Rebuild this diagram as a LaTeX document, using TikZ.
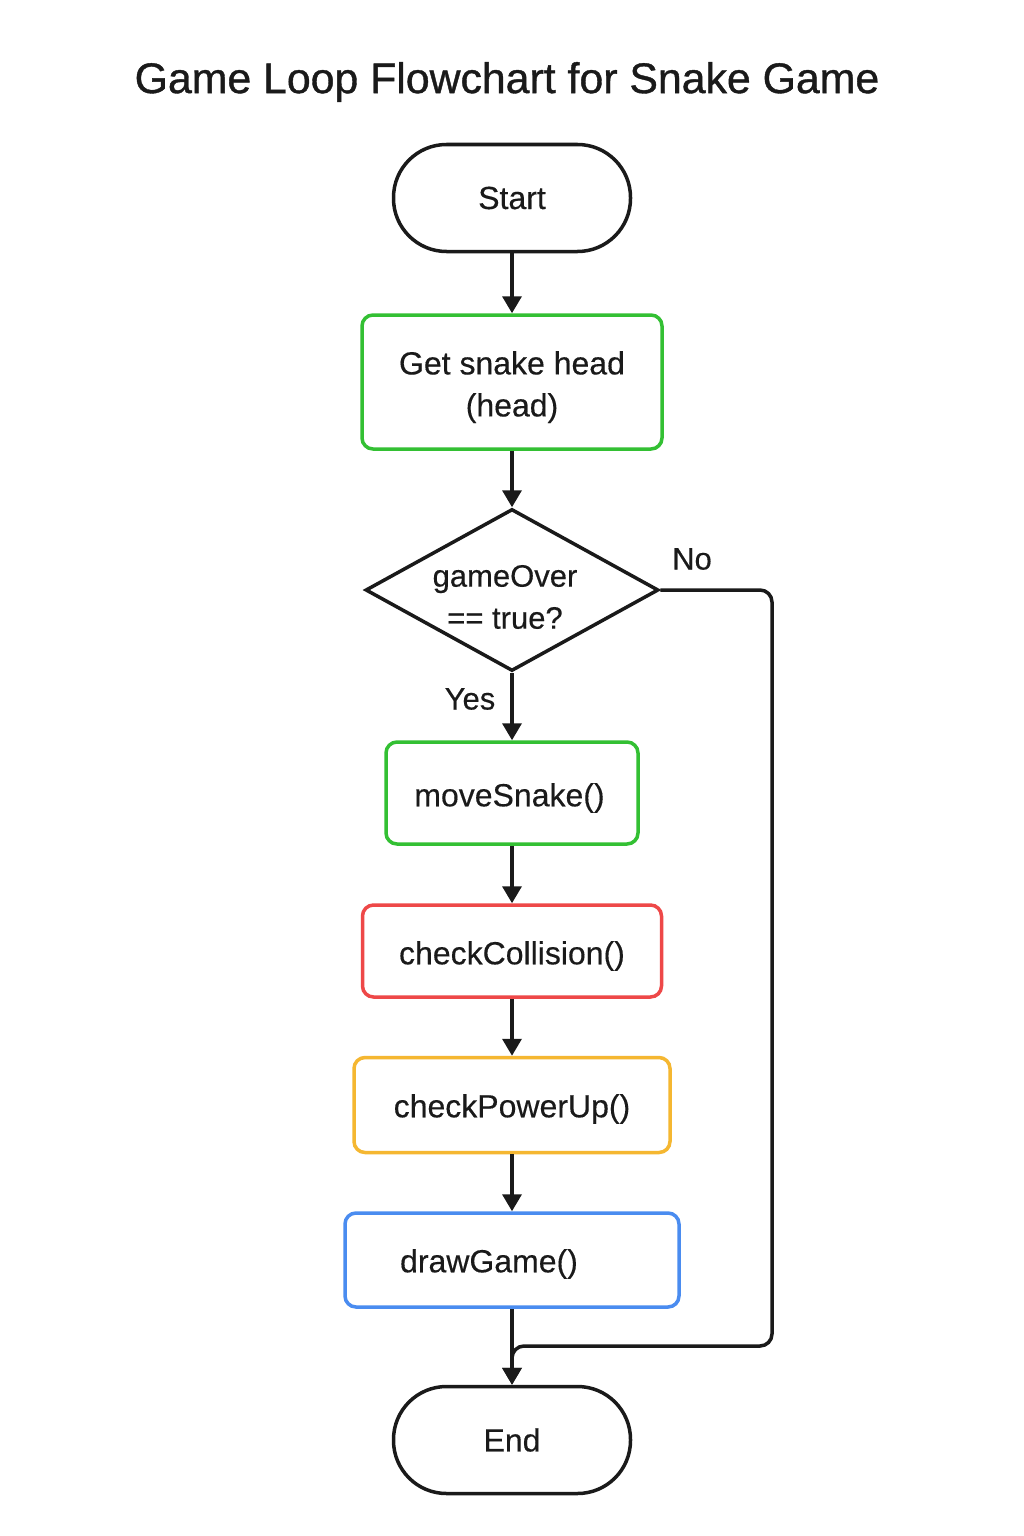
\documentclass[tikz,border=0pt]{standalone}
\usepackage{fontspec}
\setmainfont{Liberation Sans}[FakeBold=0.35]
\newfontfamily\titlefont{Liberation Sans}[FakeBold=0.9]
\usetikzlibrary{shapes.geometric,arrows.meta}
\definecolor{ink}{HTML}{1A1A1A}
\definecolor{cgreen}{HTML}{33C033}
\definecolor{cred}{HTML}{EE4848}
\definecolor{corange}{HTML}{F5B731}
\definecolor{cblue}{HTML}{4A8CF0}
\newcommand{\dn}[2]{\raisebox{-#1}[\height][\depth]{#2}}
\begin{document}
\begin{tikzpicture}[x=1pt,y=-1pt,
  every node/.style={text=ink},
  lbl/.style={font=\fontsize{31}{36}\selectfont},
  term/.style={draw=ink, line width=3.5pt, rounded corners=53pt, minimum width=237pt, minimum height=107pt, font=\fontsize{32}{38}\selectfont},
  proc/.style={line width=3.5pt, rounded corners=11pt, inner sep=0pt, font=\fontsize{32}{42}\selectfont},
  decis/.style={draw=ink, line width=3.5pt, shape=diamond, aspect=1.8, inner sep=0pt, minimum width=293pt, minimum height=162pt},
  dtext/.style={align=center, font=\fontsize{31}{42}\selectfont},
  arr/.style={draw=ink, line width=3.5pt, -{Triangle[length=17pt,width=19pt]}}
]
\useasboundingbox[fill=white] (0,0) rectangle (1024,1536);
\node[font=\titlefont\fontsize{42.8}{50}\selectfont] (title) at (507,82) {Game Loop Flowchart for Snake Game};
\node[term] (start) at (512,198) {Start};
\node[proc, draw=cgreen, minimum width=300pt, minimum height=134pt] (gsh) at (512,382) {\dn{5pt}{\begin{tabular}{@{}c@{}}Get snake head\\(head)\end{tabular}}};
\node[decis] (dec) at (512,590) {};
\node[dtext] (dectext) at (505,597) {gameOver\\== true?};
\node[proc, draw=cgreen, minimum width=252pt, minimum height=102pt] (mv) at (512,793) {\dn{5pt}{moveSnake()}\hspace*{5pt}};
\node[proc, draw=cred, minimum width=299pt, minimum height=92pt] (cc) at (512,951) {\dn{5pt}{checkCollision()}};
\node[proc, draw=corange, minimum width=316pt, minimum height=95pt] (cp) at (512,1105) {\dn{4pt}{checkPowerUp()}};
\node[proc, draw=cblue, minimum width=334pt, minimum height=94pt] (dg) at (512,1260) {\dn{4pt}{drawGame()}\hspace*{46pt}};
\node[term] (end) at (512,1440) {End};
\node[lbl] (yes) at (470,699) {Yes};
\node[lbl] (no) at (692,559) {No};
\coordinate (loop) at (772,1346);
\draw[arr] (start) -- (gsh);
\draw[arr] (gsh) -- (dec);
\draw[arr] (dec) -- (mv);
\draw[arr] (mv) -- (cc);
\draw[arr] (cc) -- (cp);
\draw[arr] (cp) -- (dg);
\draw[arr] (dg) -- (end);
\draw[arr, rounded corners=12pt] (dec.east) -| (loop) -| (end.north);
\end{tikzpicture}
\end{document}
